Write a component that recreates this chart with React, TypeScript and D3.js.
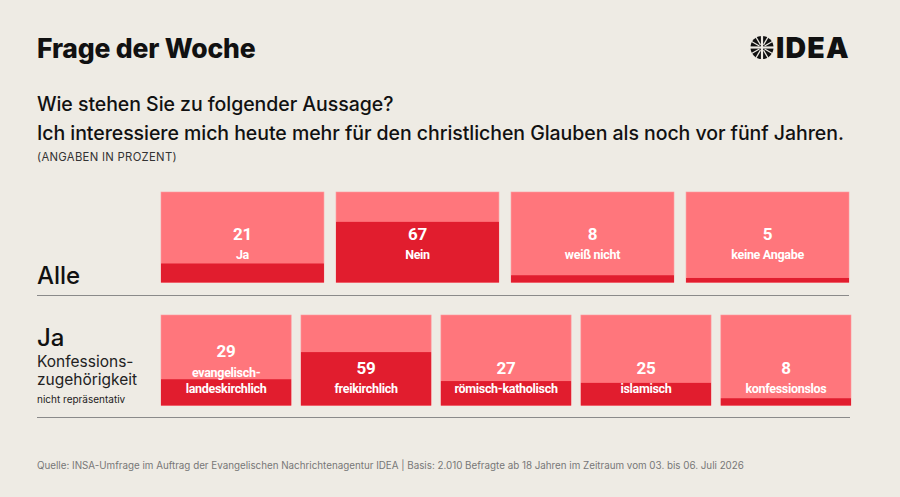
import React, { useEffect, useRef } from 'react';
import * as d3 from 'd3';

const allCategories = ['Ja', 'Nein', 'weiß nicht', 'keine Angabe'];
const allValues = [21, 67, 8, 5];

const groupCategories = [
  'evangelisch-\nlandeskirchlich',
  'freikirchlich',
  'römisch-katholisch',
  'islamisch',
  'konfessionslos',
];
const groupValues = [29, 59, 27, 25, 8];

const LIGHT = '#ff767c';
const DARK = '#e11d2e';
const BG = '#eeebe4';
const BOX_FONT = "'Roboto', sans-serif";
const HEAD_FONT = "'Inter', 'Lato', sans-serif";

const W = 900;
const H = 497;

function drawRow(g, cats, vals, x0, x1, top, bottom, pad) {
  const x = d3.scaleBand().domain(cats).range([x0, x1]).paddingInner(pad);
  const y = d3.scaleLinear().domain([0, 100]).range([bottom, top]);

  const rows = cats.map((c, i) => ({ cat: c, value: vals[i] }));
  const cell = g
    .selectAll('g.cell')
    .data(rows)
    .enter()
    .append('g')
    .attr('class', 'cell');

  cell
    .append('rect')
    .attr('x', d => x(d.cat))
    .attr('y', y(100))
    .attr('width', x.bandwidth())
    .attr('height', y(0) - y(100))
    .attr('fill', LIGHT)
    .attr('stroke', '#ff9a9e')
    .attr('stroke-width', 0.6);

  cell
    .append('rect')
    .attr('x', d => x(d.cat))
    .attr('y', d => y(d.value))
    .attr('width', x.bandwidth())
    .attr('height', d => y(0) - y(d.value))
    .attr('fill', DARK);

  return { x, y, cell };
}

function boxText(sel, size) {
  return sel
    .attr('text-anchor', 'middle')
    .attr('font-family', BOX_FONT)
    .attr('font-weight', 700)
    .attr('font-size', size)
    .attr('letter-spacing', size < 15 ? -0.3 : -0.2)
    .attr('fill', '#fff');
}

function drawLogo(svg) {
  const logo = svg.append('g').attr('transform', 'translate(762,47.5)');
  logo.append('circle').attr('r', 11.5).attr('fill', '#111');
  d3.range(12).forEach(i => {
    const a = (i * Math.PI) / 6;
    const main = i % 3 === 0;
    logo
      .append('line')
      .attr('x1', main ? 0 : Math.cos(a) * 3)
      .attr('y1', main ? 0 : Math.sin(a) * 3)
      .attr('x2', Math.cos(a) * 12)
      .attr('y2', Math.sin(a) * 12)
      .attr('stroke', BG)
      .attr('stroke-width', main ? 2.2 : 1.2);
  });
  svg
    .append('text')
    .attr('x', 776)
    .attr('y', 58)
    .attr('font-family', HEAD_FONT)
    .attr('font-weight', 900)
    .attr('font-size', 28.5)
    .attr('fill', '#111')
    .attr('letter-spacing', 1.2)
    .text('IDEA');
}

export default function App() {
  const ref = useRef(null);

  useEffect(() => {
    const node = ref.current;
    d3.select(node).selectAll('*').remove();
    const svg = d3.select(node);

    svg.append('rect').attr('width', W).attr('height', H).attr('fill', BG);

    svg
      .append('text')
      .attr('x', 37)
      .attr('y', 58)
      .attr('font-family', HEAD_FONT)
      .attr('font-weight', 800)
      .attr('font-size', 26.5)
      .attr('fill', '#111')
      .attr('letter-spacing', -0.2)
      .text('Frage der Woche');

    drawLogo(svg);

    const question = [
      'Wie stehen Sie zu folgender Aussage?',
      'Ich interessiere mich heute mehr für den christlichen Glauben als noch vor fünf Jahren.',
    ];
    svg
      .selectAll('text.question')
      .data(question)
      .enter()
      .append('text')
      .attr('class', 'question')
      .attr('x', 37)
      .attr('y', (d, i) => 111 + i * 29)
      .attr('font-family', HEAD_FONT)
      .attr('font-weight', 500)
      .attr('font-size', 19.5)
      .attr('letter-spacing', -0.05)
      .attr('fill', '#111')
      .text(d => d);

    svg
      .append('text')
      .attr('x', 37)
      .attr('y', 161)
      .attr('font-family', HEAD_FONT)
      .attr('font-size', 11.3)
      .attr('fill', '#333')
      .attr('letter-spacing', 0.3)
      .text('(ANGABEN IN PROZENT)');

    // row 1: all respondents
    const g1 = svg.append('g');
    const r1 = drawRow(g1, allCategories, allValues, 161, 849, 192, 282.5, 0.069);
    boxText(
      r1.cell
        .append('text')
        .attr('x', d => r1.x(d.cat) + r1.x.bandwidth() / 2)
        .attr('y', 240),
      17
    ).text(d => d.value);
    boxText(
      r1.cell
        .append('text')
        .attr('x', d => r1.x(d.cat) + r1.x.bandwidth() / 2)
        .attr('y', 259),
      12.5
    ).text(d => d.cat);

    svg
      .append('text')
      .attr('x', 37)
      .attr('y', 284)
      .attr('font-family', HEAD_FONT)
      .attr('font-weight', 500)
      .attr('font-size', 24)
      .attr('fill', '#111')
      .text('Alle');
    svg
      .append('line')
      .attr('x1', 37)
      .attr('x2', 849)
      .attr('y1', 295.5)
      .attr('y2', 295.5)
      .attr('stroke', '#8a8a8a')
      .attr('stroke-width', 1.2);

    // row 2: respondents answering "Ja", by denomination
    const g2 = svg.append('g');
    const r2 = drawRow(g2, groupCategories, groupValues, 161, 851, 315, 405.5, 0.07);
    boxText(
      r2.cell
        .append('text')
        .attr('x', d => r2.x(d.cat) + r2.x.bandwidth() / 2)
        .attr('y', d => (d.cat.includes('\n') ? 357 : 374)),
      17
    ).text(d => d.value);
    r2.cell.each(function (d) {
      const lines = d.cat.split('\n');
      const cx = r2.x(d.cat) + r2.x.bandwidth() / 2;
      boxText(
        d3
          .select(this)
          .selectAll('text.lbl')
          .data(lines)
          .enter()
          .append('text')
          .attr('class', 'lbl')
          .attr('x', cx)
          .attr('y', (l, i) => 393 - (lines.length - 1 - i) * 16.5),
        12.5
      ).text(l => l);
    });

    svg
      .append('text')
      .attr('x', 37)
      .attr('y', 346)
      .attr('font-family', HEAD_FONT)
      .attr('font-weight', 500)
      .attr('font-size', 24)
      .attr('fill', '#111')
      .text('Ja');
    [
      { t: 'Konfessions-', y: 367, s: 15.5 },
      { t: 'zugehörigkeit', y: 385, s: 15.5 },
      { t: 'nicht repräsentativ', y: 403, s: 10 },
    ].forEach(l => {
      svg
        .append('text')
        .attr('x', 37)
        .attr('y', l.y)
        .attr('font-family', HEAD_FONT)
        .attr('font-size', l.s)
        .attr('fill', '#222')
        .text(l.t);
    });
    svg
      .append('line')
      .attr('x1', 37)
      .attr('x2', 850)
      .attr('y1', 417.5)
      .attr('y2', 417.5)
      .attr('stroke', '#8a8a8a')
      .attr('stroke-width', 1.2);

    svg
      .append('text')
      .attr('x', 37)
      .attr('y', 469)
      .attr('font-family', HEAD_FONT)
      .attr('font-size', 9.8)
      .attr('fill', '#777')
      .text(
        'Quelle: INSA-Umfrage im Auftrag der Evangelischen Nachrichtenagentur IDEA | Basis: 2.010 Befragte ab 18 Jahren im Zeitraum vom 03. bis 06. Juli 2026'
      );
  }, []);

  return (
    <svg
      ref={ref}
      width={W}
      height={H}
      style={{ position: 'absolute', left: 0, top: 0, display: 'block' }}
    />
  );
}
